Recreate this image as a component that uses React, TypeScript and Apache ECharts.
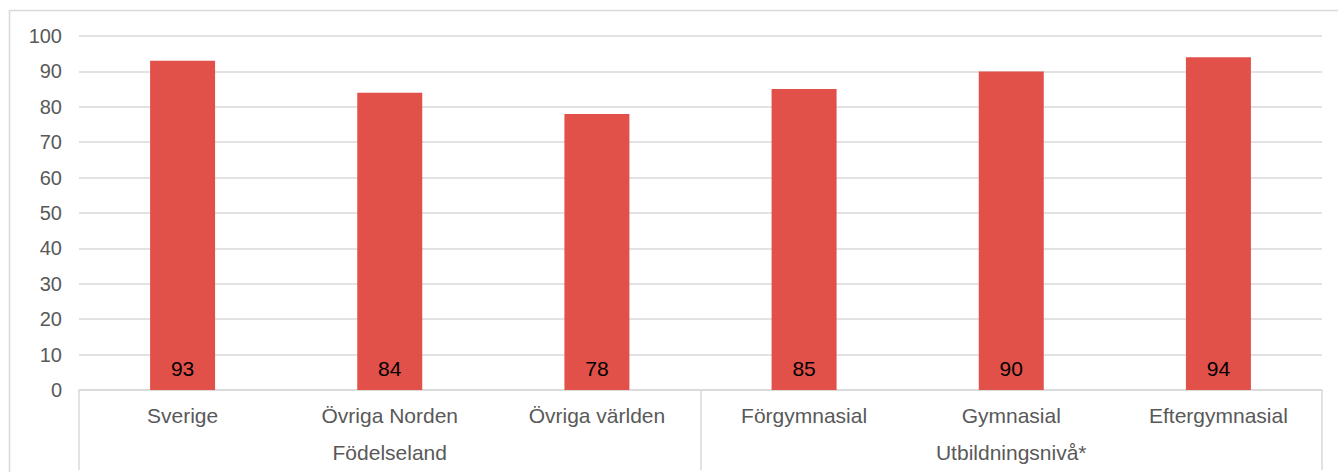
import React, { useEffect, useRef } from "react";
import * as echarts from "echarts";

const categories = ["Sverige", "Övriga Norden", "Övriga världen", "Förgymnasial", "Gymnasial", "Eftergymnasial"];
const groups = ["Födelseland", "Utbildningsnivå*"];
const values = [93, 84, 78, 85, 90, 94];
const yTicks = { min: 0, max: 100, interval: 10 };

const FONT = "'Liberation Sans', Arial, sans-serif";
const GRID = "#d9d9d9";

export default function App() {
  const ref = useRef<HTMLDivElement>(null);
  useEffect(() => {
    const chart = echarts.init(ref.current!, null, { renderer: "svg" });
    chart.setOption({
      animation: false,
      textStyle: { fontFamily: FONT },
      graphic: [
        {
          type: "rect",
          shape: { x: 9.5, y: 10.5, width: 1340, height: 470 },
          style: { fill: "none", stroke: GRID, lineWidth: 1.5 },
          silent: true,
        },
      ],
      grid: { left: 79, right: 16, top: 36, bottom: 82, containLabel: false },
      xAxis: [
        {
          type: "category",
          data: categories,
          position: "bottom",
          axisLine: { show: true, lineStyle: { color: GRID, width: 1.5 } },
          axisTick: { show: false },
          axisLabel: { color: "#595959", fontSize: 21, margin: 15, fontFamily: FONT },
        },
        {
          type: "category",
          data: groups,
          position: "bottom",
          axisLine: { show: false },
          axisTick: { show: true, length: 80, lineStyle: { color: GRID, width: 1.5 } },
          axisLabel: { color: "#595959", fontSize: 21, margin: 52, fontFamily: FONT },
        },
      ],
      yAxis: {
        type: "value",
        min: yTicks.min,
        max: yTicks.max,
        interval: yTicks.interval,
        axisLine: { show: false },
        axisTick: { show: false },
        splitLine: { lineStyle: { color: GRID, width: 1.5 } },
        axisLabel: { color: "#595959", fontSize: 20, margin: 17, fontFamily: FONT },
      },
      series: [
        {
          type: "bar",
          xAxisIndex: 0,
          data: values,
          barWidth: 65,
          itemStyle: { color: "#E2504A" },
          label: {
            show: true,
            position: "insideBottom",
            distance: 11,
            color: "#000000",
            fontSize: 21,
            fontFamily: FONT,
          },
        },
      ],
    });
    return () => chart.dispose();
  }, []);
  return (
    <div
      ref={ref}
      style={{ position: "fixed", left: 0, top: 0, width: 1338, height: 472, background: "#ffffff" }}
    />
  );
}
